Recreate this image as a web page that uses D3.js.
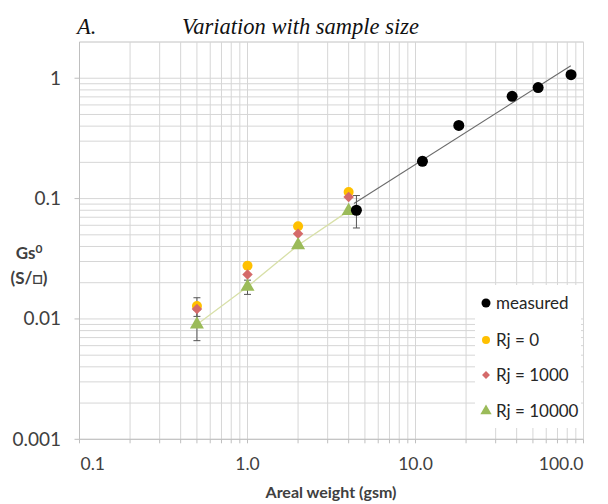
<!DOCTYPE html>
<html><head><meta charset="utf-8">
<script src="https://cdn.jsdelivr.net/npm/d3@7"></script>
<style>body{margin:0;background:#fff}svg{display:block}</style>
</head><body>
<svg id="c" width="608" height="504"></svg>
<script>
// ---- data ----
const sampleSizes = [0.5, 1, 2, 4];
const rj0 = [0.0128, 0.0277, 0.059, 0.1135];
const rj1000 = [0.0121, 0.0234, 0.051, 0.103];
const rj10000 = [0.0090, 0.0185, 0.041, 0.079];
const rj1000ErrLow = [0.0105, null, null, null];
const rj1000ErrHigh = [0.0150, null, null, null];
const rj10000ErrLow = [0.0066, 0.0160, null, null];
const rj10000ErrHigh = [0.0118, 0.0210, null, null];
const measuredX = [4.45, 11, 18.1, 37.6, 53.7, 84.3];
const measuredY = [0.080, 0.204, 0.405, 0.708, 0.837, 1.07];
const measuredErrLow = [0.057, 0.190, null, null, null, null];
const measuredErrHigh = [0.106, 0.220, null, null, null, null];
const fitX = [4.3, 84];
const fitY = [0.091, 1.27];
const xTicks = [0.1, 1, 10, 100];
const xTickLabels = ["0.1", "1.0", "10.0", "100.0"];
const yTicks = [0.001, 0.01, 0.1, 1];
const yTickLabels = ["0.001", "0.01", "0.1", "1"];
const legendLabels = ["measured", "Rj = 0", "Rj = 1000", "Rj = 10000"];

const svg = d3.select("#c");
const L = 79.5, R = 583.5, T = 42, B = 439.3;
const x = d3.scaleLog().domain([0.1, 100]).range([L, R]);
const y = d3.scaleLog().domain([0.001, 2]).range([B, T]);
const font = "Lato, 'Open Sans', sans-serif";
const gridC = "#d6d6d6";

// minor + major grid
const xMinor = [], yMinor = [];
for (let e = -1; e < 2; e++) for (let m = 1; m <= 9; m++) xMinor.push(m * Math.pow(10, e));
xMinor.push(100);
for (let e = -3; e < 1; e++) for (let m = 1; m <= 9; m++) { const v = m * Math.pow(10, e); if (v <= 2) yMinor.push(v); }
yMinor.push(2);
const g = svg.append("g");
g.selectAll(".vx").data(xMinor).join("line")
  .attr("x1", d => x(d)).attr("x2", d => x(d)).attr("y1", T).attr("y2", B)
  .attr("stroke", gridC).attr("stroke-width", 1);
g.selectAll(".hy").data(yMinor).join("line")
  .attr("x1", L).attr("x2", R).attr("y1", d => y(d)).attr("y2", d => y(d))
  .attr("stroke", gridC).attr("stroke-width", 1);

// axes lines and ticks
svg.append("line").attr("x1", L).attr("x2", L).attr("y1", T).attr("y2", B).attr("stroke", "#bfbfbf");
svg.append("line").attr("x1", L).attr("x2", R).attr("y1", B).attr("y2", B).attr("stroke", "#bfbfbf");
svg.selectAll(".yt").data(yTicks).join("line")
  .attr("x1", L - 5).attr("x2", L).attr("y1", d => y(d)).attr("y2", d => y(d)).attr("stroke", "#bfbfbf");
svg.selectAll(".xt").data(xMinor).join("line")
  .attr("x1", d => x(d)).attr("x2", d => x(d)).attr("y1", B).attr("y2", B + 4).attr("stroke", "#bfbfbf");

svg.selectAll(".ytl").data(yTicks).join("text")
  .attr("x", 61).attr("y", d => y(d) + 6.5).attr("text-anchor", "end")
  .attr("font-family", font).attr("font-size", 19).attr("fill", "#404040")
  .text((d, i) => yTickLabels[i]);
svg.selectAll(".xtl").data(xTicks).join("text")
  .attr("x", (d, i) => i === 0 ? L + 1 : (i === xTicks.length - 1 ? R : x(d)))
  .attr("y", 470)
  .attr("text-anchor", (d, i) => i === 0 ? "start" : (i === xTicks.length - 1 ? "end" : "middle"))
  .attr("font-family", font).attr("font-size", 17.5).attr("fill", "#404040")
  .text((d, i) => xTickLabels[i]);

// axis titles
svg.append("text").attr("x", 331).attr("y", 498).attr("text-anchor", "middle")
  .attr("font-family", font).attr("font-size", 16).attr("font-weight", "bold").attr("fill", "#404040")
  .text("Areal weight (gsm)");
const yt = svg.append("text").attr("x", 29).attr("y", 259).attr("text-anchor", "middle")
  .attr("font-family", font).attr("font-size", 17).attr("font-weight", "bold").attr("fill", "#404040");
yt.append("tspan").text("Gs");
yt.append("tspan").attr("font-size", 12).attr("dy", -6).text("0");
svg.append("text").attr("x", 29).attr("y", 284).attr("text-anchor", "middle")
  .attr("font-family", font).attr("font-size", 17).attr("font-weight", "bold").attr("fill", "#404040")
  .text("(S/\u25A1)");

// title
svg.append("text").attr("x", 77).attr("y", 34)
  .attr("font-family", "'Liberation Serif', serif").attr("font-style", "italic").attr("font-size", 22.5).attr("fill", "#111")
  .text("A.");
svg.append("text").attr("x", 182).attr("y", 34)
  .attr("font-family", "'Liberation Serif', serif").attr("font-style", "italic").attr("font-size", 22.5).attr("fill", "#111")
  .text("Variation with sample size");

// lines
const line = d3.line().x(d => x(d[0])).y(d => y(d[1]));
svg.append("path").attr("d", line(sampleSizes.map((s, i) => [s, rj10000[i]])))
  .attr("fill", "none").attr("stroke", "#d8e0a8").attr("stroke-width", 1.3);
svg.append("path").attr("d", line(fitX.map((s, i) => [s, fitY[i]])))
  .attr("fill", "none").attr("stroke", "#6a6a6a").attr("stroke-width", 1.1);

// error bars
function errBars(xs, lo, hi, color) {
  xs.forEach((xv, i) => {
    if (lo[i] == null) return;
    const cx = x(xv);
    svg.append("line").attr("x1", cx).attr("x2", cx).attr("y1", y(lo[i])).attr("y2", y(hi[i])).attr("stroke", color).attr("stroke-width", 1);
    [lo[i], hi[i]].forEach(v => svg.append("line").attr("x1", cx - 3.5).attr("x2", cx + 3.5).attr("y1", y(v)).attr("y2", y(v)).attr("stroke", color).attr("stroke-width", 1));
  });
}
errBars(sampleSizes, rj1000ErrLow, rj1000ErrHigh, "#555");
errBars(sampleSizes, rj10000ErrLow, rj10000ErrHigh, "#555");
errBars(measuredX, measuredErrLow, measuredErrHigh, "#555");

// markers
const cYellow = "#ffc000", cRed = "#d46a6a", cGreen = "#9bbb59";
const sym = (type, size) => d3.symbol().type(type).size(size)();
svg.selectAll(".p0").data(sampleSizes).join("circle")
  .attr("cx", d => x(d)).attr("cy", (d, i) => y(rj0[i])).attr("r", 5).attr("fill", cYellow);
svg.selectAll(".p1").data(sampleSizes).join("path")
  .attr("d", sym(d3.symbolDiamond2, 70))
  .attr("transform", (d, i) => `translate(${x(d)},${y(rj1000[i])})`).attr("fill", cRed);
svg.selectAll(".p2").data(sampleSizes).join("path")
  .attr("d", sym(d3.symbolTriangle, 85))
  .attr("transform", (d, i) => `translate(${x(d)},${y(rj10000[i])})`).attr("fill", cGreen);
svg.selectAll(".pm").data(measuredX).join("circle")
  .attr("cx", d => x(d)).attr("cy", (d, i) => y(measuredY[i])).attr("r", 5.5).attr("fill", "#000");

// legend
const lg = svg.append("g");
lg.append("rect").attr("x", 475).attr("y", 285).attr("width", 106).attr("height", 143).attr("fill", "#fff");
const ly = [303, 340, 375, 411];
lg.append("circle").attr("cx", 486).attr("cy", ly[0]).attr("r", 4.5).attr("fill", "#000");
lg.append("circle").attr("cx", 486).attr("cy", ly[1]).attr("r", 4).attr("fill", cYellow);
lg.append("path").attr("d", sym(d3.symbolDiamond2, 40)).attr("transform", `translate(486,${ly[2]})`).attr("fill", cRed);
lg.append("path").attr("d", sym(d3.symbolTriangle, 55)).attr("transform", `translate(486,${ly[3]})`).attr("fill", cGreen);
lg.selectAll(".lt").data(legendLabels).join("text")
  .attr("x", 496).attr("y", (d, i) => ly[i] + 6)
  .attr("font-family", font).attr("font-size", 17).attr("fill", "#262626").text(d => d);
</script>
</body></html>
